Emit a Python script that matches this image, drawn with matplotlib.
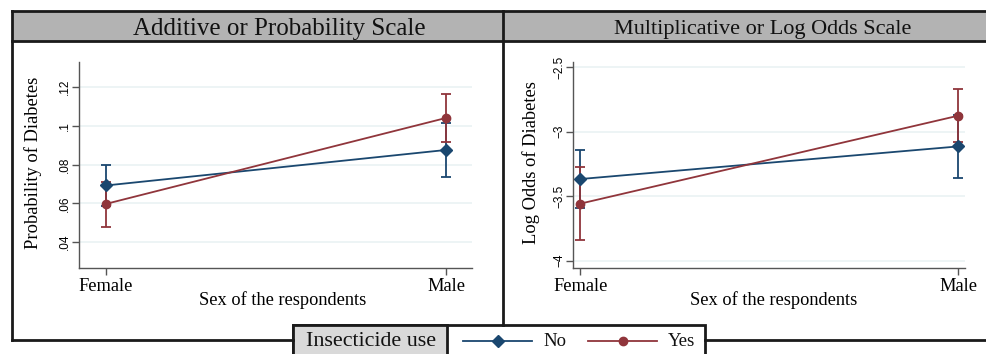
import matplotlib
matplotlib.use("Agg")
import matplotlib.pyplot as plt
from matplotlib.lines import Line2D
from matplotlib.patches import Rectangle

W, H = 987, 354

sex = ['Female', 'Male']
groups = ['No', 'Yes']

# probability scale
prob_no = [0.0692, 0.0875]
prob_no_lo = [0.0587, 0.0737]
prob_no_hi = [0.0797, 0.1015]
prob_yes = [0.0597, 0.1040]
prob_yes_lo = [0.0479, 0.0914]
prob_yes_hi = [0.0712, 0.1165]
prob_ticks = [0.04, 0.06, 0.08, 0.10, 0.12]
prob_ticklabels = ['.04', '.06', '.08', '.1', '.12']

# log odds scale
lo_no = [-3.367, -3.114]
lo_no_lo = [-3.590, -3.359]
lo_no_hi = [-3.142, -2.869]
lo_yes = [-3.558, -2.876]
lo_yes_lo = [-3.843, -3.083]
lo_yes_hi = [-3.274, -2.667]
lo_ticks = [-4, -3.5, -3, -2.5]
lo_ticklabels = ['\u22124', '\u22123.5', '\u22123', '\u22122.5']

NAVY = '#1a476f'
MAROON = '#90353b'
GRID = '#eaf2f3'
EDGE = '#1a1a1a'
SERIF = 'Liberation Serif'
SANS = 'Liberation Sans'


def fx(x):
    return x / W


def fy(y):
    return 1 - y / H


fig = plt.figure(figsize=(W / 100, H / 100), dpi=100)
fig.patch.set_facecolor('white')


def px_axes(x0, y0, x1, y1):
    return fig.add_axes([fx(x0), fy(y1), (x1 - x0) / W, (y1 - y0) / H])


def hline(x0, x1, y, lw=2.0, color=EDGE):
    fig.add_artist(Line2D([fx(x0), fx(x1)], [fy(y), fy(y)], lw=lw,
                          color=color, transform=fig.transFigure,
                          solid_capstyle='projecting'))


def vline(x, y0, y1, lw=2.0, color=EDGE):
    fig.add_artist(Line2D([fx(x), fx(x)], [fy(y0), fy(y1)], lw=lw,
                          color=color, transform=fig.transFigure,
                          solid_capstyle='projecting'))


# title band
fig.add_artist(Rectangle((fx(12), fy(41)), (987 - 12) / W, 30 / H,
                         transform=fig.transFigure, facecolor='#b3b3b3',
                         edgecolor='none'))
hline(12, 987, 11)
hline(12, 987, 41)
vline(12, 11, 340)
vline(503, 11, 325)
hline(12, 293, 340)
hline(705, 987, 340)

fig.text(fx(279), fy(27), 'Additive or Probability Scale', family=SERIF,
         fontsize=18, ha='center', va='center_baseline', color='#111111')
fig.text(fx(763), fy(27), 'Multiplicative or Log Odds Scale', family=SERIF,
         fontsize=16, ha='center', va='center_baseline', color='#111111')


def draw_panel(ax, ys, los, his, ylim, xlim, ticks, ticklabels):
    xs = [0, 1]
    ax.set_xlim(*xlim)
    ax.set_ylim(*ylim)
    for t in ticks:
        ax.axhline(t, color=GRID, lw=1.2, zorder=0)
    styles = [(NAVY, 'D', 6), (MAROON, 'o', 6)]
    for (y, lo, hi), (c, m, ms) in zip(zip(ys, los, his), styles):
        yerr = [[v - l for v, l in zip(y, lo)], [h - v for v, h in zip(y, hi)]]
        ax.errorbar(xs, y, yerr=yerr, color=c, marker=m, ms=ms, lw=1.3,
                    elinewidth=1.3, capsize=3.5, capthick=1.3)
    for s in ['top', 'right']:
        ax.spines[s].set_visible(False)
    for s in ['left', 'bottom']:
        ax.spines[s].set_color('#555555')
        ax.spines[s].set_linewidth(1.0)
    ax.set_xticks(xs)
    ax.set_xticklabels(sex, family=SERIF, fontsize=13.2)
    ax.set_yticks(ticks)
    ax.set_yticklabels(ticklabels, family=SANS, fontsize=8.5, rotation=90,
                       va='center')
    ax.tick_params(axis='both', length=5, width=1, color='#555555', pad=0.5)
    ax.tick_params(axis='x', pad=2)


ax1 = px_axes(79, 62, 472, 268)
draw_panel(ax1, [prob_no, prob_yes], [prob_no_lo, prob_yes_lo],
           [prob_no_hi, prob_yes_hi], (0.0267, 0.1328), (-0.079, 1.076),
           prob_ticks, prob_ticklabels)

ax2 = px_axes(573, 62, 965, 268)
draw_panel(ax2, [lo_no, lo_yes], [lo_no_lo, lo_yes_lo],
           [lo_no_hi, lo_yes_hi], (-4.057, -2.459), (-0.019, 1.0185),
           lo_ticks, lo_ticklabels)

fig.text(fx(33), fy(163), 'Probability of Diabetes', family=SERIF,
         fontsize=13.3, rotation=90, ha='center', va='center')
fig.text(fx(531), fy(163), 'Log Odds of Diabetes', family=SERIF,
         fontsize=13.3, rotation=90, ha='center', va='center')
fig.text(fx(283), fy(300), 'Sex of the respondents', family=SERIF,
         fontsize=13.2, ha='center', va='center')
fig.text(fx(774), fy(300), 'Sex of the respondents', family=SERIF,
         fontsize=13.2, ha='center', va='center')

# legend
fig.add_artist(Rectangle((fx(293), fy(360)), (705 - 293) / W, 35 / H,
                         transform=fig.transFigure, facecolor='white',
                         edgecolor=EDGE, lw=2))
fig.add_artist(Rectangle((fx(293), fy(360)), (447 - 293) / W, 35 / H,
                         transform=fig.transFigure, facecolor='#d9d9d9',
                         edgecolor=EDGE, lw=2))
fig.text(fx(371), fy(341), 'Insecticide use', family=SERIF, fontsize=15.8,
         ha='center', va='center', color='#111111')
leg_items = [(NAVY, 'D', 463, 532, 543), (MAROON, 'o', 588, 657, 668)]
for name, (c, m, x0, x1, tx) in zip(groups, leg_items):
    fig.add_artist(Line2D([fx(x0), fx(x1)], [fy(341), fy(341)], color=c,
                          lw=1.3, transform=fig.transFigure))
    fig.add_artist(Line2D([fx((x0 + x1) / 2)], [fy(341)], color=c, marker=m,
                          ms=6, transform=fig.transFigure))
    fig.text(fx(tx), fy(342), name, family=SERIF, fontsize=13.5,
             ha='left', va='center', color='#111111')

fig.savefig('out.png', dpi=100)
